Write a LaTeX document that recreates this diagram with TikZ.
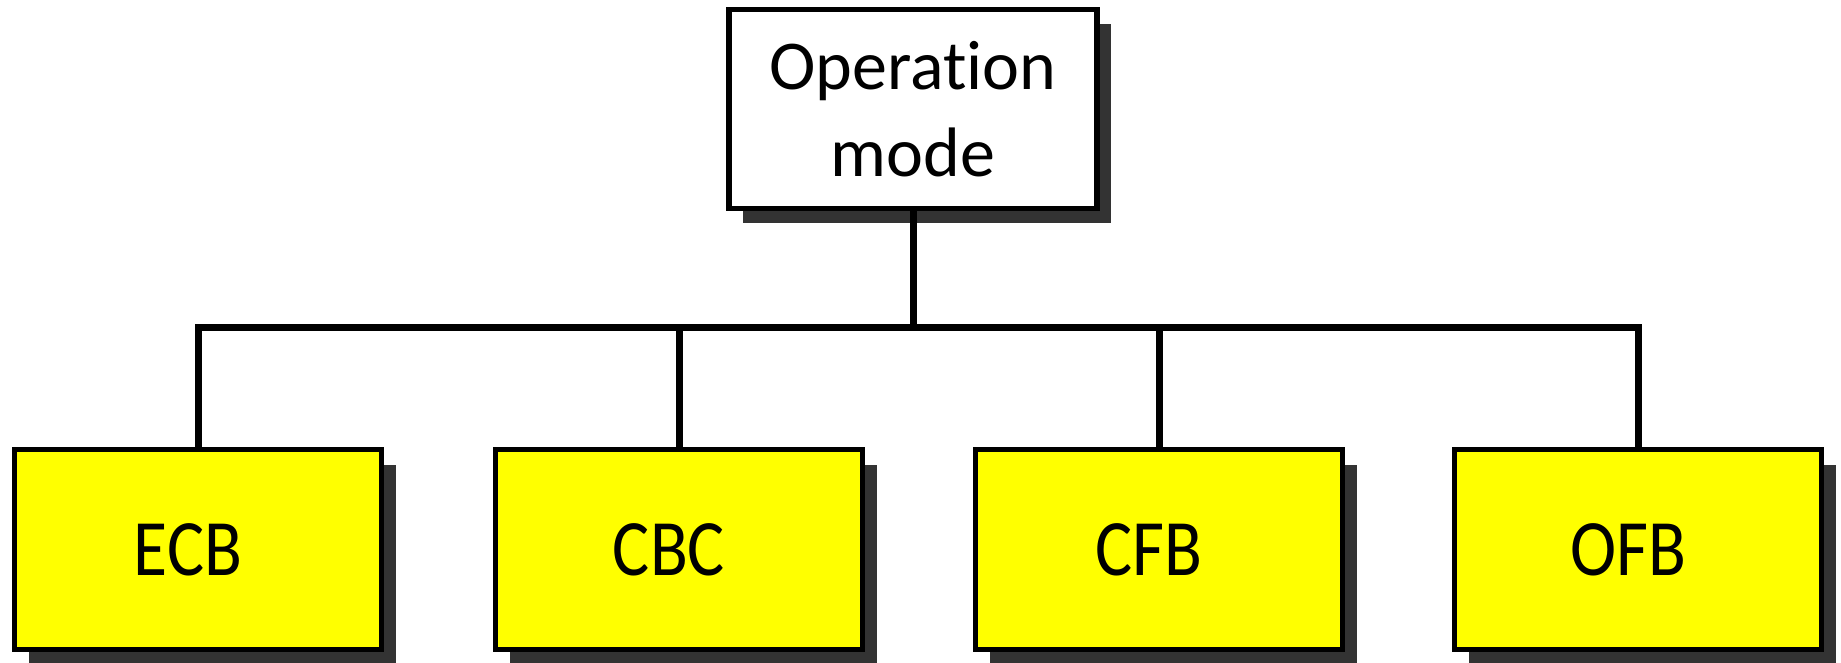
\documentclass[tikz,border=0pt]{standalone}
\usepackage{fontspec}
\setmainfont{Carlito}[Ligatures=NoCommon]
\usetikzlibrary{shadows}
\definecolor{modeyellow}{HTML}{FFFF00}
\definecolor{shadowgray}{HTML}{333333}
\tikzset{
  boxshadow/.style={drop shadow={shadow xshift=7pt, shadow yshift=-7.5pt, fill=shadowgray, opacity=1}},
  topbox/.style={draw=black, line width=2.75pt, fill=white, minimum width=184pt, minimum height=99.5pt, inner sep=0pt, align=center, boxshadow,
    font=\fontsize{35pt}{43.5pt}\selectfont},
  modebox/.style={draw=black, line width=2.75pt, fill=modeyellow, minimum width=183.5pt, minimum height=100pt, inner sep=0pt, boxshadow,
    font=\fontsize{40pt}{48pt}\selectfont},
  link/.style={line width=3.5pt}
}
\newcommand{\narrowtext}[1]{\hbox{\raisebox{-3.5pt}{\scalebox{0.87}[1]{#1}}\kern10pt}}
\begin{document}
\begin{tikzpicture}[x=0.5pt,y=-0.5pt]
\useasboundingbox (0,0) rectangle (1841,663);
\node[topbox] (top) at (913,109) {Operation\\mode};
\node[modebox] (ecb) at (198,549.5) {\narrowtext{ECB}};
\node[modebox] (cbc) at (679,549.5) {\narrowtext{CBC}};
\node[modebox] (cfb) at (1159,549.5) {\narrowtext{CFB}};
\node[modebox] (ofb) at (1638,549.5) {\narrowtext{OFB}};
\coordinate (bus) at (913,327);
\draw[link] (top.south) -- (bus);
\draw[link] (ecb.north) |- (bus) -| (ofb.north);
\draw[link] (cbc.north) -- (cbc.north |- bus);
\draw[link] (cfb.north) -- (cfb.north |- bus);
\end{tikzpicture}
\end{document}
